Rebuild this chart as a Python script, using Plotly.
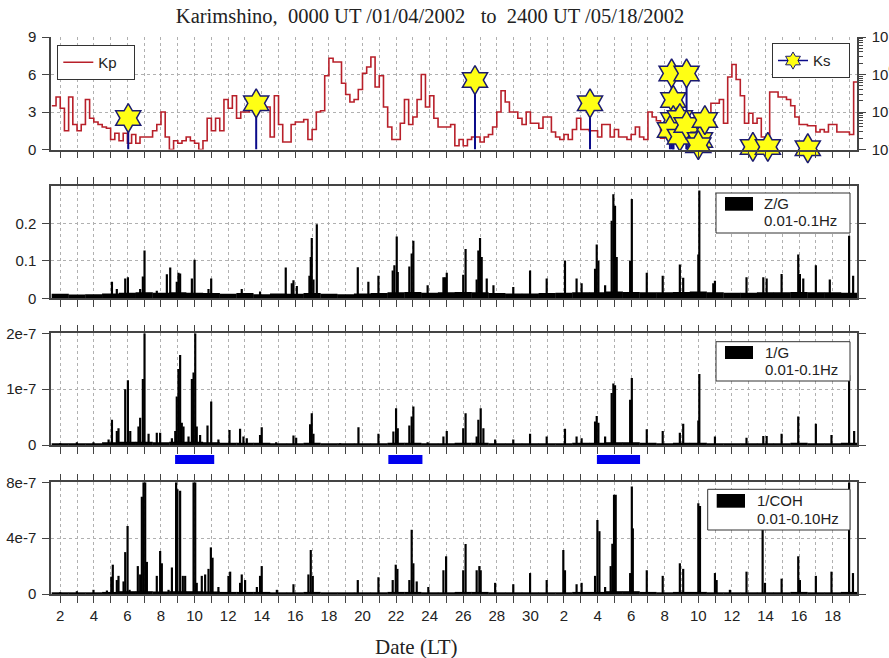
import plotly.graph_objects as go

# ---------------- data ----------------
# day axis: 1.0 = 1 April 2002 00:00 LT, 31.0 = 1 May 2002 00:00 LT
label_days = [2, 4, 6, 8, 10, 12, 14, 16, 18, 20, 22, 24, 26, 28, 30,
              32, 34, 36, 38, 40, 42, 44, 46, 48]
tick_labels = ["2", "4", "6", "8", "10", "12", "14", "16", "18", "20", "22", "24", "26", "28", "30",
               "2", "4", "6", "8", "10", "12", "14", "16", "18"]
minor_days = [3, 5, 7, 9, 11, 13, 15, 17, 19, 21, 23, 25, 27, 29, 31,
              33, 35, 37, 39, 41, 43, 45, 47, 49]
base_days = list(range(2, 50))

# Kp index, 6-hour steps starting at day 1.5
kp_start = 1.5
kp_step = 0.25
kp = [3.5, 4.2,
      3.3, 1.5, 4.2, 2.0,  1.5, 2.0, 4.0, 2.5,  2.2, 2.0, 1.8, 1.7,  0.8, 1.3, 0.7, 1.3,
      0.5, 1.2, 0.5, 1.0,  1.0, 1.0, 1.5, 2.0,  3.0, 1.0, 0.0, 0.7,  0.5, 0.7, 1.0, 0.7,
      0.5, 0.0, 0.7, 2.5,  1.5, 2.5, 1.5, 4.0,  3.3, 4.3, 2.5, 3.0,  3.0, 3.5, 3.5, 3.5,
      3.4, 3.4, 1.0, 4.3,  2.0, 0.6, 0.6, 2.0,  2.2, 2.2, 2.4, 0.8,  1.6, 3.0, 3.1, 5.9,
      7.3, 7.0, 7.0, 5.3,  4.4, 3.8, 4.0, 4.8,  6.1, 6.6, 7.4, 5.0,  5.9, 3.4, 1.8, 0.8,
      0.8, 2.1, 4.0, 2.0,  2.6, 4.0, 6.0, 3.4,  4.3, 2.5, 1.8, 1.8,  1.8, 2.0, 0.3, 0.8,
      0.3, 0.8, 1.0, 1.0,  0.6, 1.0, 1.2, 1.8,  3.0, 4.7, 3.8, 3.0,  3.0, 2.5, 2.0, 3.0,
      2.1, 2.1, 1.7, 2.6,  2.6, 1.4, 1.0, 0.8,  1.2, 0.8, 1.6, 2.5,  1.6, 1.6, 1.5, 1.5,
      1.0, 2.0, 2.0, 1.0,  1.6, 1.0, 1.0, 0.8,  1.2, 1.8, 1.0, 0.8,  3.0, 2.6, 2.3, 0.9,
      2.3, 2.3, 2.3, 2.2,  2.6, 2.6, 2.4, 2.6,  2.6, 2.6, 2.6, 3.7,  3.7, 4.0, 2.1, 5.8,
      6.8, 5.6, 4.3, 2.1,  2.9, 2.1, 2.5, 1.0,  1.0, 4.6, 4.6, 4.2,  4.2, 4.0, 3.5, 2.6,
      2.0, 2.0, 1.9, 1.9,  1.4, 1.6, 1.4, 2.0,  2.0, 1.4, 1.4, 1.4,
      1.2, 5.4]

# Ks (earthquake) markers, right log axis
ks_day = [6.05, 13.67, 26.70, 33.55, 38.41, 39.30, 38.51, 38.51, 38.90, 38.31,
          38.90, 39.30, 40.10, 39.50, 40.00, 40.39, 43.25, 44.14, 46.52]
ks_val = [0.069, 0.17, 0.71, 0.17, 1.07, 1.07, 0.21, 0.061, 0.069, 0.033,
          0.022, 0.045, 0.018, 0.0096, 0.013, 0.061, 0.0117, 0.0117, 0.0108]
ks_floor = 0.01

# Z/G 0.01-0.1 Hz : daily background level and spikes
zg_base = [0.012, 0.010, 0.011, 0.013, 0.015, 0.016, 0.015, 0.016, 0.015, 0.014,
           0.012, 0.014, 0.011, 0.013, 0.012, 0.014, 0.012, 0.011, 0.013, 0.014,
           0.016, 0.017, 0.015, 0.016, 0.017, 0.016, 0.014, 0.013, 0.013, 0.014,
           0.015, 0.016, 0.016, 0.018, 0.017, 0.016, 0.016, 0.017, 0.018, 0.016,
           0.015, 0.015, 0.016, 0.016, 0.017, 0.016, 0.016, 0.015]
zg_day = [5.08, 5.37, 5.87, 6.03, 6.76, 6.92, 7.02, 7.75, 8.35, 8.55, 8.94, 9.04, 9.14,
          9.84, 10.0, 10.83, 10.99, 12.81, 13.9, 15.43, 15.79, 15.89, 16.09, 16.84,
          16.92, 16.98, 17.08, 17.28, 19.72, 20.35, 20.95, 21.8, 21.9, 22.04, 22.1,
          22.79, 22.93, 23.03, 23.88, 24.82, 24.92, 25.02, 26.0, 26.14, 26.8, 26.9,
          27.0, 27.1, 27.4, 27.8, 28.98, 29.98, 30.97, 32.06, 32.75, 33.05, 33.85,
          33.95, 34.05, 34.45, 34.84, 34.94, 35.04, 35.14, 35.94, 36.04, 36.93, 37.88,
          38.9, 39.1, 40.0, 40.06, 40.89, 40.99, 42.87, 43.87, 44.07, 44.96, 45.95,
          46.05, 46.25, 47.0, 47.83, 48.98, 49.22]
zg_val = [0.044, 0.025, 0.053, 0.056, 0.025, 0.058, 0.128, 0.02, 0.064, 0.082, 0.044,
          0.068, 0.066, 0.053, 0.103, 0.025, 0.053, 0.025, 0.018, 0.082, 0.04, 0.048,
          0.033, 0.06, 0.11, 0.161, 0.05, 0.198, 0.083, 0.044, 0.06, 0.074, 0.088,
          0.165, 0.07, 0.085, 0.12, 0.154, 0.035, 0.056, 0.056, 0.068, 0.063, 0.132,
          0.05, 0.128, 0.161, 0.11, 0.053, 0.035, 0.03, 0.074, 0.053, 0.101, 0.053,
          0.04, 0.079, 0.144, 0.10, 0.035, 0.207, 0.278, 0.247, 0.11, 0.10, 0.265,
          0.068, 0.06, 0.09, 0.055, 0.117, 0.288, 0.04, 0.047, 0.056, 0.056, 0.053,
          0.065, 0.117, 0.065, 0.053, 0.088, 0.05, 0.167, 0.06]

# 1/G 0.01-0.1 Hz (units of 1e-7)
g_base = [0.03, 0.03, 0.03, 0.05, 0.06, 0.06, 0.05, 0.06, 0.06, 0.05,
          0.04, 0.04, 0.04, 0.03, 0.03, 0.04, 0.03, 0.02, 0.03, 0.03,
          0.04, 0.04, 0.03, 0.03, 0.04, 0.04, 0.03, 0.03, 0.03, 0.03,
          0.03, 0.04, 0.04, 0.05, 0.05, 0.04, 0.03, 0.04, 0.04, 0.03,
          0.03, 0.03, 0.03, 0.03, 0.04, 0.03, 0.03, 0.04]
g_day = [2.0, 2.99, 3.98, 4.88, 5.08, 5.37, 5.47, 5.87, 6.03, 6.17, 6.66, 6.76, 6.92,
         7.02, 7.26, 7.75, 7.95, 8.65, 8.85, 8.94, 9.04, 9.14, 9.24, 9.34, 9.64, 9.84,
         9.94, 10.04, 10.13, 10.33, 10.77, 10.99, 11.42, 12.08, 12.71, 12.91, 13.11,
         13.9, 14.0, 14.86, 15.89, 16.05, 16.88, 16.98, 17.08, 18.67, 19.76, 20.95,
         21.84, 22.0, 22.1, 22.79, 22.93, 23.03, 23.88, 24.82, 25.02, 26.0, 26.14,
         26.8, 26.9, 27.04, 27.2, 27.9, 28.98, 29.98, 30.97, 32.06, 32.75, 33.05,
         33.85, 33.95, 34.05, 34.45, 34.84, 34.94, 35.04, 35.94, 36.04, 36.93, 37.88,
         38.9, 39.1, 40.0, 40.06, 40.99, 42.87, 43.87, 44.07, 44.96, 45.95, 47.0,
         47.93, 48.98, 49.28]
g_val = [0.03, 0.05, 0.05, 0.1, 0.45, 0.25, 0.3, 1.0, 1.16, 0.25, 0.33, 0.49, 1.18,
         2.0, 0.2, 0.22, 0.22, 0.12, 0.25, 0.87, 1.36, 1.61, 0.4, 0.33, 0.15, 1.18,
         1.3, 2.0, 0.33, 0.18, 0.35, 0.78, 0.1, 0.27, 0.29, 0.15, 0.12,
         0.18, 0.32, 0.05, 0.17, 0.13, 0.37, 0.57, 0.2, 0.03, 0.32, 0.2,
         0.24, 0.66, 0.3, 0.35, 0.51, 0.69, 0.05, 0.15, 0.25, 0.3, 0.57,
         0.15, 0.45, 0.66, 0.3, 0.1, 0.1, 0.2, 0.15, 0.29, 0.15, 0.12,
         0.42, 0.52, 0.4, 0.15, 0.93, 1.1, 1.07, 0.81, 1.2, 0.28, 0.25,
         0.22, 0.38, 0.44, 1.27, 0.15, 0.13, 0.16, 0.16, 0.2, 0.51, 0.38,
         0.18, 1.25, 0.25]

# 1/COH 0.01-0.10 Hz (units of 1e-7)
coh_base = [0.10, 0.10, 0.12, 0.15, 0.20, 0.20, 0.18, 0.20, 0.20, 0.18,
            0.15, 0.15, 0.15, 0.10, 0.12, 0.15, 0.10, 0.08, 0.10, 0.10,
            0.15, 0.15, 0.12, 0.12, 0.15, 0.15, 0.10, 0.10, 0.10, 0.10,
            0.12, 0.15, 0.15, 0.20, 0.20, 0.15, 0.12, 0.15, 0.15, 0.12,
            0.12, 0.10, 0.12, 0.12, 0.15, 0.12, 0.12, 0.15]
coh_day = [2.0, 2.99, 3.98, 4.78, 5.04, 5.13, 5.37, 5.47, 5.77, 5.87, 6.01, 6.13, 6.62,
           6.76, 6.86, 6.96, 7.06, 7.16, 7.75, 7.95, 8.05, 8.45, 8.65, 8.9, 8.98, 9.14,
           9.3, 9.44, 9.94, 10.04, 10.13, 10.43, 10.63, 10.83, 10.97, 11.07, 11.42,
           12.02, 12.12, 12.71, 12.81, 13.01, 13.71, 13.9, 14.0, 14.9, 15.89, 16.78,
           16.92, 17.04, 19.72, 20.95, 21.8, 21.98, 22.08, 22.79, 22.93, 23.03, 23.23,
           23.92, 24.82, 24.98, 26.0, 26.14, 26.8, 26.96, 27.04, 27.9, 28.98, 29.98,
           30.97, 31.96, 32.06, 32.75, 33.05, 33.85, 33.99, 34.11, 34.45, 34.78, 34.88,
           34.98, 35.08, 35.94, 36.04, 36.1, 36.93, 37.88, 38.9, 39.1, 40.0, 40.1,
           40.99, 41.09, 41.88, 42.87, 43.83, 43.97, 44.96, 45.95, 46.05, 47.0, 47.93,
           48.98, 49.21]
coh_val = [0.1, 0.2, 0.3, 0.25, 1.24, 2.1, 1.0, 1.3, 0.9, 3.0, 4.87, 0.3, 2.0,
           1.4, 6.97, 8.0, 8.0, 2.3, 1.3, 3.08, 2.2, 0.3, 1.9, 8.0, 7.5, 7.4,
           1.3, 1.3, 8.0, 8.0, 0.8, 1.3, 1.4, 1.8, 3.34, 2.6, 0.5,
           1.3, 1.6, 0.8, 1.4, 1.0, 0.5, 1.3, 2.0, 0.3, 0.7, 1.4,
           3.15, 1.3, 1.0, 1.2, 1.0, 2.1, 1.8, 1.0, 4.6, 2.2, 0.9,
           0.5, 1.7, 2.7, 1.7, 3.58, 1.7, 2.0, 1.7, 0.8, 0.7, 1.5,
           1.0, 3.15, 1.7, 0.7, 0.8, 1.3, 5.3, 4.5, 0.5, 2.0, 3.6,
           7.1, 7.1, 1.5, 7.7, 4.7, 1.7, 1.3, 2.2, 1.8, 6.5, 6.3,
           1.5, 1.0, 0.3, 1.6, 4.6, 0.8, 1.1, 2.7, 1.0, 1.3, 1.6,
           8.0, 1.5]

# blue observation intervals (days)
blue_start = [8.84, 21.54, 33.96]
blue_end = [11.17, 23.57, 36.53]

# ---------------- layout helpers (pixel -> paper) ----------------
W, H = 889, 658
ML, MR, MT, MB = 51, 32, 37, 64
PW, PH = W - ML - MR, H - MT - MB


def px(x):
    return (x - ML) / PW


def py(y):
    return (H - MB - y) / PH


SANS = "Liberation Sans, Arial, sans-serif"
SERIF = "Liberation Serif, Times New Roman, serif"
AX = "#444444"
GRID = "#b0b0b0"
NB = "\u00a0"

fig = go.Figure()

# Kp step line
kp_x = [kp_start + kp_step * i for i in range(len(kp) + 1)]
kp_y = kp + [kp[-1]]
fig.add_trace(go.Scatter(x=kp_x, y=kp_y, mode="lines", name="Kp" + NB * 3,
                         line=dict(color="#b8202a", width=1.6, shape="hv"),
                         xaxis="x", yaxis="y", legend="legend"))

# Ks stems + stars
sx, sy, ss, sw = [], [], [], []
for d, v in zip(ks_day, ks_val):
    sx += [d, d, None]
    sy += [ks_floor, v, None]
    ss += [0, 22, 0]
    sw += [0, 1.5, 0]
fig.add_trace(go.Scatter(x=sx, y=sy, mode="lines+markers", showlegend=False,
                         line=dict(color="#0b0b8a", width=2),
                         marker=dict(symbol="hexagram", size=ss, color="#ffff14", opacity=1,
                                     line=dict(color="#1b1b70", width=sw)),
                         cliponaxis=False, xaxis="x", yaxis="y5"))
fig.add_trace(go.Scatter(x=[None], y=[None], mode="lines+markers", name="Ks" + NB * 3,
                         line=dict(color="#0b0b8a", width=1.5),
                         marker=dict(symbol="hexagram", size=13, color="#ffff14", opacity=1,
                                     line=dict(color="#1b1b70", width=1)),
                         xaxis="x", yaxis="y5", legend="legend2"))


def add_bars(base, xs, ys, xa, ya):
    fig.add_trace(go.Bar(x=base_days, y=base, width=1.02, showlegend=False,
                         marker=dict(color="black", line=dict(width=0)),
                         xaxis=xa, yaxis=ya))
    fig.add_trace(go.Bar(x=xs, y=ys, width=0.13, showlegend=False,
                         marker=dict(color="black", line=dict(width=0)),
                         xaxis=xa, yaxis=ya))


add_bars(zg_base, zg_day, zg_val, "x2", "y2")
add_bars(g_base, g_day, g_val, "x3", "y3")
add_bars(coh_base, coh_day, coh_val, "x4", "y4")

tickfont = dict(family=SANS, size=15, color="#222222")
xcommon = dict(range=[1.45, 49.45], tickmode="array", tickvals=label_days,
               ticktext=tick_labels, ticks="outside", ticklen=7, tickwidth=1,
               tickcolor=AX, showline=True, linecolor=AX, linewidth=1.5,
               zeroline=False, showgrid=True, gridcolor=GRID, griddash="dot",
               gridwidth=1, tickfont=tickfont,
               minor=dict(tickmode="array", tickvals=minor_days, ticks="outside",
                          ticklen=7, tickwidth=1, tickcolor=AX, showgrid=True,
                          gridcolor=GRID, griddash="dot", gridwidth=1))
ycommon = dict(ticks="outside", ticklen=7, tickwidth=1, tickcolor=AX,
               showline=True, linecolor=AX, linewidth=1.5, zeroline=False,
               showgrid=True, gridcolor=GRID, griddash="dot", gridwidth=1,
               tickfont=tickfont, tickmode="array", ticklabelstandoff=3)

d1 = [py(149.5), 1.0]
d2 = [py(298.3), py(186)]
d3 = [py(445), py(333.3)]
d4 = [0.0, py(482.3)]

fig.update_layout(
    width=W, height=H,
    margin=dict(l=ML, r=MR, t=MT, b=MB, pad=0, autoexpand=False),
    paper_bgcolor="white", plot_bgcolor="white",
    barmode="overlay",
    xaxis=dict(xcommon, anchor="y", showticklabels=False),
    xaxis2=dict(xcommon, anchor="y2", matches="x", showticklabels=False, mirror="ticks"),
    xaxis3=dict(xcommon, anchor="y3", matches="x", showticklabels=False, mirror="ticks"),
    xaxis4=dict(xcommon, anchor="y4", matches="x", showticklabels=True, mirror="ticks"),
    yaxis=dict(ycommon, domain=d1, range=[0, 9], tickvals=[0, 3, 6, 9],
               ticktext=["0", "3", "6", "9"], anchor="x"),
    yaxis5=dict(overlaying="y", side="right", anchor="x", type="log", range=[-2, 1],
                tickmode="array", tickvals=[0.01, 0.1, 1, 10],
                ticktext=["10<sup>-2</sup>", "10<sup>-1</sup>", "10<sup>0</sup>", "10<sup>1</sup>"],
                ticks="outside", ticklen=7, tickcolor=AX, showline=True, linecolor=AX,
                linewidth=1.5, showgrid=False, zeroline=False, tickfont=tickfont,
                ticklabelstandoff=3,
                minor=dict(ticks="outside", ticklen=4, tickcolor=AX, dtick="D1", showgrid=False)),
    yaxis2=dict(ycommon, domain=d2, range=[0, 0.3], tickvals=[0, 0.1, 0.2],
                ticktext=["0", "0.1", "0.2"], anchor="x2", mirror="ticks"),
    yaxis3=dict(ycommon, domain=d3, range=[0, 2], tickvals=[0, 1, 2],
                ticktext=["0", "1e-7", "2e-7"], anchor="x3", mirror="ticks"),
    yaxis4=dict(ycommon, domain=d4, range=[0, 8], tickvals=[0, 4, 8],
                ticktext=["0", "4e-7", "8e-7"], anchor="x4", mirror="ticks"),
    title=dict(text="Karimshino," + NB + " 0000 UT /01/04/2002" + NB * 2 + " to" + NB + " 2400 UT /05/18/2002",
               font=dict(family=SERIF, size=20.5, color="#222222"),
               x=px(430), xref="paper", xanchor="center",
               y=1 - 16 / H, yref="container", yanchor="middle"),
    legend=dict(x=px(57.3), y=py(45), xanchor="left", yanchor="top",
                bgcolor="white", bordercolor="#333333", borderwidth=1,
                font=dict(family=SANS, size=15, color="#222222"),
                itemwidth=30, tracegroupgap=0),
    legend2=dict(x=px(850), y=py(43.3), xanchor="right", yanchor="top",
                 bgcolor="white", bordercolor="#333333", borderwidth=1,
                 font=dict(family=SANS, size=15, color="#222222"),
                 itemwidth=30, tracegroupgap=0),
    showlegend=True,
)

shapes = []
annotations = []

# blue interval bars between panels 3 and 4
for a, b in zip(blue_start, blue_end):
    shapes.append(dict(type="rect", xref="x4", yref="paper", x0=a, x1=b,
                       y0=py(464), y1=py(455), fillcolor="#0000ee",
                       line=dict(width=0), layer="above"))

# manual legend boxes for the bar panels
boxes = [
    ((716, 850, 193, 233), (725, 753, 197, 210.7), 762, 204, 220.5, "Z/G", "0.01-0.1Hz"),
    ((716, 850, 341.7, 381), (725, 753, 346, 359), 763, 352.5, 370, "1/G", "0.01-0.1Hz"),
    ((707.7, 850, 489.3, 530), (716.7, 745, 494, 507.7), 755, 500.8, 518, "1/COH", "0.01-0.10Hz"),
]
for (bx0, bx1, by0, by1), (ix0, ix1, iy0, iy1), tx, t1, t2, s1, s2 in boxes:
    shapes.append(dict(type="rect", xref="paper", yref="paper",
                       x0=px(bx0), x1=px(bx1), y0=py(by1), y1=py(by0),
                       fillcolor="white", line=dict(color="#333333", width=1), layer="above"))
    shapes.append(dict(type="rect", xref="paper", yref="paper",
                       x0=px(ix0), x1=px(ix1), y0=py(iy1), y1=py(iy0),
                       fillcolor="black", line=dict(width=0), layer="above"))
    for s, ty in ((s1, t1), (s2, t2)):
        annotations.append(dict(text=s, xref="paper", yref="paper", x=px(tx), y=py(ty),
                                xanchor="left", yanchor="middle", showarrow=False,
                                font=dict(family=SANS, size=15, color="#222222")))

annotations.append(dict(text="Date (LT)", xref="paper", yref="paper", x=px(416), y=py(647),
                        xanchor="center", yanchor="middle", showarrow=False,
                        font=dict(family=SERIF, size=21, color="#222222")))

fig.update_layout(shapes=shapes, annotations=annotations)

fig.write_html("out.html", config={"displayModeBar": False})
